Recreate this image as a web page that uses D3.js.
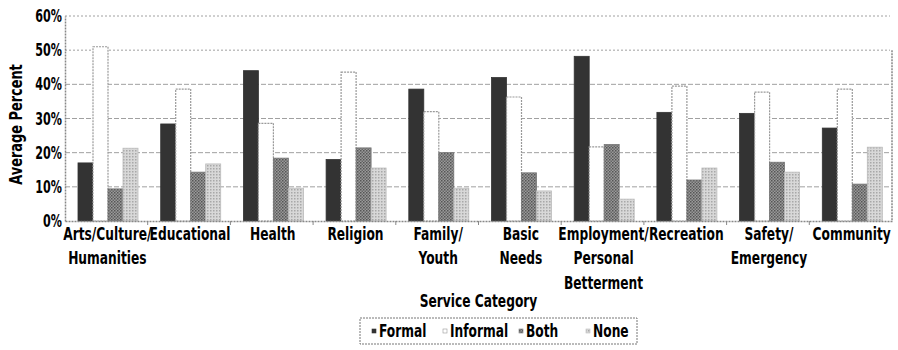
<!DOCTYPE html>
<html><head><meta charset="utf-8">
<script src="https://cdn.jsdelivr.net/npm/d3@7"></script>
<style>
body{margin:0;background:#fff;}
text{font-family:"DejaVu Sans","Liberation Sans",Arial,sans-serif;font-weight:bold;fill:#000;}
</style></head>
<body><svg id="chart" width="898" height="350"></svg>
<script>
const categories = [["Arts/Culture/","Humanities"],["Educational"],["Health"],["Religion"],["Family/","Youth"],["Basic","Needs"],["Employment/","Personal","Betterment"],["Recreation"],["Safety/","Emergency"],["Community"]];
const seriesNames = ["Formal","Informal","Both","None"];
const formal   = [17, 28.4, 44, 18, 38.6, 42, 48.2, 31.8, 31.5, 27.2];
const informal = [51, 38.6, 28.6, 43.6, 32, 36.3, 21.7, 39.5, 37.7, 38.6];
const both     = [9.4, 14.3, 18.4, 21.4, 20, 14.1, 22.4, 12, 17.2, 10.8];
const none     = [21.3, 16.7, 9.6, 15.5, 9.6, 8.8, 6.4, 15.5, 14.3, 21.6];
const yTicks = [0,10,20,30,40,50,60];
const series = [formal, informal, both, none];

const svg = d3.select("#chart");
const defs = svg.append("defs");
const pb = defs.append("pattern").attr("id","pBoth").attr("width",3).attr("height",3).attr("patternUnits","userSpaceOnUse");
pb.append("rect").attr("width",3).attr("height",3).attr("fill","#9a9a9a");
pb.append("rect").attr("width",1.5).attr("height",1.5).attr("fill","#555");
pb.append("rect").attr("x",1.5).attr("y",1.5).attr("width",1.5).attr("height",1.5).attr("fill","#666");
const pn = defs.append("pattern").attr("id","pNone").attr("width",3).attr("height",3).attr("patternUnits","userSpaceOnUse");
pn.append("rect").attr("width",3).attr("height",3).attr("fill","#d8d8d8");
pn.append("rect").attr("width",1.5).attr("height",1.5).attr("fill","#a8a8a8");

const fills = ["#333333","#ffffff","url(#pBoth)","url(#pNone)"];
const strokes = ["#333333","#999999","#777777","#bbbbbb"];

const L = 65, R = 892, T = 16, B = 221;
const x = d3.scaleBand().domain(d3.range(categories.length)).range([L,R]).padding(0);
const y = d3.scaleLinear().domain([0,60]).range([B,T]);

// condensed text helper
function ctext(parent, tx, ty, lines, size, sx, anchor, rot, lh){
  const g = parent.append("g").attr("transform",`translate(${tx},${ty})${rot?` rotate(${rot})`:""} scale(${sx},1)`);
  const t = g.append("text").attr("text-anchor",anchor||"middle").style("font-size",size+"px");
  t.selectAll("tspan").data(lines).join("tspan").attr("x",0).attr("dy",(d,i)=>i===0?0:(lh||24)).text(d=>d);
  return g;
}

// gridlines
svg.append("g").selectAll("line").data(yTicks.filter(d=>d>0)).join("line")
  .attr("x1",L).attr("x2",R-2).attr("y1",d=>y(d)).attr("y2",d=>y(d))
  .attr("stroke","#a0a0a0").attr("stroke-width",1).attr("stroke-dasharray",d=>d===60||d===50?"2,2":"5,2");

// y axis
const yAxis = d3.axisLeft(y).tickValues(yTicks).tickSize(0).tickFormat("");
const ya = svg.append("g").attr("transform",`translate(${L},0)`).call(yAxis);
ya.select(".domain").attr("stroke","#888").attr("stroke-dasharray","2,1").attr("stroke-width",1.5);
const yl = svg.append("g");
yTicks.forEach(v=>ctext(yl, L-3, y(v)+6, [v+"%"], 18, 0.62, "end"));

// right border
svg.append("line").attr("x1",R).attr("x2",R).attr("y1",y(50)).attr("y2",B).attr("stroke","#888").attr("stroke-dasharray","2,1").attr("stroke-width",1.5);

// bars
const bw = 15, off = 13;
series.forEach((s,si)=>{
  svg.append("g").selectAll("rect").data(s).join("rect")
    .attr("x",(d,i)=>x(i)+off+si*bw)
    .attr("y",d=>y(d))
    .attr("width",bw)
    .attr("height",d=>B-y(d))
    .attr("fill",fills[si])
    .attr("stroke",strokes[si])
    .attr("stroke-width",si===1?1.2:0.8)
    .attr("stroke-dasharray",si===1?"2,1":null);
});

// x axis
const xa = svg.append("g").attr("transform",`translate(0,${B})`)
  .call(d3.axisBottom(x).tickSize(0).tickFormat(""));
xa.select(".domain").attr("stroke","#888").attr("stroke-dasharray","2,1").attr("stroke-width",1.5);
svg.append("g").selectAll("line").data(d3.range(1,categories.length)).join("line")
  .attr("x1",i=>x(i)).attr("x2",i=>x(i)).attr("y1",B).attr("y2",B+4).attr("stroke","#888");

// category labels
const lab = svg.append("g");
categories.forEach((c,i)=>ctext(lab, x(i)+x.bandwidth()/2+1, B+19, c, 17, 0.72, "middle", 0, 24.5));

// axis titles
ctext(svg, 22, (T+B)/2+6, ["Average Percent"], 17, 0.76, "middle", -90);
ctext(svg, (L+R)/2, 307, ["Service Category"], 17, 0.72, "middle");

// legend
const lg = svg.append("g");
lg.append("rect").attr("x",360).attr("y",318).attr("width",277).attr("height",26).attr("fill","none").attr("stroke","#777").attr("stroke-dasharray","2,1");
const legX = [372,443,519,586];
seriesNames.forEach((n,i)=>{
  lg.append("rect").attr("x",legX[i]).attr("y",329).attr("width",4).attr("height",4).attr("fill",fills[i]).attr("stroke",strokes[i]).attr("stroke-width",0.6);
  ctext(lg, legX[i]+7, 337, [n], 17, 0.72, "start");
});
</script></body></html>
